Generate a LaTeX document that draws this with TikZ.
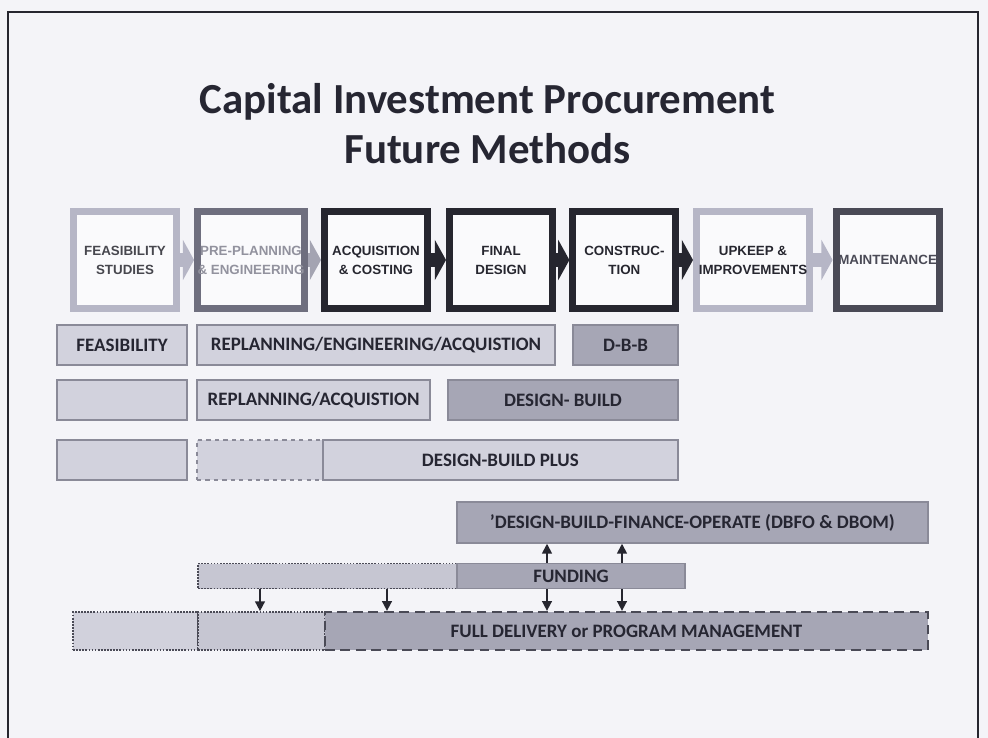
\documentclass[tikz,border=0pt]{standalone}
\usepackage{fontspec}
\setmainfont{Carlito}
\newfontfamily\arialfont{Liberation Sans}
\usetikzlibrary{arrows.meta}
\definecolor{pagebg}{HTML}{F4F4F8}
\definecolor{boxfill}{HTML}{FAFAFC}
\definecolor{darkline}{HTML}{26262F}
\definecolor{midline}{HTML}{6E6E7E}
\definecolor{lightline}{HTML}{B6B6C6}
\definecolor{maintline}{HTML}{4A4A56}
\definecolor{lightbar}{HTML}{D2D2DD}
\definecolor{midbar}{HTML}{A6A6B5}
\definecolor{prebar}{HTML}{C6C6D2}
\definecolor{barline}{HTML}{8A8A98}
\definecolor{bartext}{HTML}{262632}

\begin{document}
\begin{tikzpicture}[
stage/.style ={rectangle, draw, line width=0.175cm, fill=boxfill, minimum width=2.575cm, minimum height=2.425cm, inner sep=0pt, align=center, font=\arialfont\bfseries\fontsize{9.5}{13.5}\selectfont},
stagearrow/.style ={line width=0.36cm, -{Triangle[width=1cm,length=0.28cm]}},
bar/.style ={rectangle, draw=barline, line width=1.2pt, fill=lightbar, text=bartext, inner sep=0pt, minimum height=1cm, font=\bfseries\fontsize{13.5}{16}\selectfont},
darkbar/.style ={bar, fill=midbar},
feed/.style ={draw=darkline, line width=1.2pt, -{Triangle[width=7pt,length=7pt]}}
]
%page and frame
\fill[pagebg] (0,0) rectangle (24.7,-18.45);
\useasboundingbox (0,0) rectangle (24.7,-18.45);
\draw[darkline, line width=1.8pt] (0.2,-18.45) |- (24.45,-0.3) -- (24.45,-18.45);
%title
\draw (12.19,-3.1) node[text=bartext, align=center, font=\bfseries\fontsize{30.5}{35.5}\selectfont] (title) {Capital Investment Procurement\\Future Methods};
%stages
\path (3.125,-6.5) node[stage, draw=lightline, text=darkline!85] (s1) {FEASIBILITY\\STUDIES}
(6.275,-6.5) node[stage, draw=midline, text=lightline!80!black] (s2) {PRE-PLANNING\\\& ENGINEERING}
(9.4,-6.5) node[stage, draw=darkline, text=darkline] (s3) {ACQUISITION\\\& COSTING}
(12.525,-6.5) node[stage, draw=darkline, text=darkline] (s4) {FINAL\\DESIGN}
(15.61,-6.5) node[stage, draw=darkline, text=darkline] (s5) {CONSTRUC-\\TION}
(18.825,-6.5) node[stage, draw=lightline, text=darkline, minimum width=2.825cm] (s6) {UPKEEP \&\\IMPROVEMENTS}
(22.19,-6.5) node[stage, draw=maintline, text=maintline] (s7) {MAINTENANCE};
%stage arrows
\draw[stagearrow, draw=lightline] (s1.east) -- (s2.west);
\draw[stagearrow, draw=lightline!90!black] (s2.east) -- (s3.west);
\draw[stagearrow, draw=darkline] (s3.east) -- (s4.west);
\draw[stagearrow, draw=darkline] (s4.east) -- (s5.west);
\draw[stagearrow, draw=darkline] (s5.east) -- (s6.west);
\draw[stagearrow, draw=lightline] (s6.east) -- (s7.west);
%design-bid-build row
\draw (3.05,-8.625) node[bar, minimum width=3.25cm] (fea) {FEASIBILITY};
\draw (9.4,-8.625) node[bar, minimum width=8.95cm] (rea) {REPLANNING/ENGINEERING/ACQUISTION};
\draw (15.64,-8.625) node[darkbar, minimum width=2.625cm] (dbb) {D-B-B};
%design-build row
\draw (3.05,-10) node[bar, minimum width=3.25cm] (e1) {};
\draw (7.84,-10) node[bar, minimum width=5.825cm] (ra) {REPLANNING/ACQUISTION};
\draw (14.075,-10) node[darkbar, minimum width=5.75cm] (db) {DESIGN- BUILD};
%design-build plus row
\draw (3.05,-11.5) node[bar, minimum width=3.25cm] (e2) {};
\draw (6.5,-11.5) node[bar, dashed, minimum width=3.15cm] (dsh) {};
\draw (12.51,-11.5) node[bar, minimum width=8.875cm] (dbp) {DESIGN-BUILD PLUS};
%dbfo
\draw (17.31,-13.06) node[darkbar, minimum width=11.775cm, minimum height=1.025cm] (dbfo) {'DESIGN-BUILD-FINANCE-OPERATE (DBFO \& DBOM)};
%funding
\draw (8.19,-14.4) node[bar, fill=prebar, draw=maintline, densely dotted, minimum width=6.475cm, minimum height=0.625cm] (fundpre) {};
\draw (14.275,-14.4) node[darkbar, minimum width=5.7cm, minimum height=0.625cm] (fund) {FUNDING};
%full delivery
\draw (3.39,-15.775) node[bar, fill=lightbar!90!prebar, draw=maintline, densely dotted, minimum width=3.125cm, minimum height=0.95cm] (fd1) {};
\draw (6.54,-15.775) node[bar, fill=prebar, draw=maintline, densely dotted, minimum width=3.175cm, minimum height=0.95cm] (fd2) {};
\draw (15.66,-15.775) node[darkbar, draw=maintline, line width=1.6pt, dash pattern=on 7pt off 4pt, minimum width=15.075cm, minimum height=0.95cm] (fd) {FULL DELIVERY or PROGRAM MANAGEMENT};
%funding arrows
\coordinate (c1) at (6.5,0);
\coordinate (c2) at (9.675,0);
\coordinate (c3) at (13.675,0);
\coordinate (c4) at (15.55,0);
\draw[feed] (fundpre.south -| c1) -- (fd2.north -| c1);
\draw[feed] (fundpre.south -| c2) -- (fd.north -| c2);
\draw[feed] (fund.south -| c3) -- (fd.north -| c3);
\draw[feed] (fund.south -| c4) -- (fd.north -| c4);
\draw[feed] (fund.north -| c3) -- (dbfo.south -| c3);
\draw[feed] (fund.north -| c4) -- (dbfo.south -| c4);
\end{tikzpicture}
\end{document}
